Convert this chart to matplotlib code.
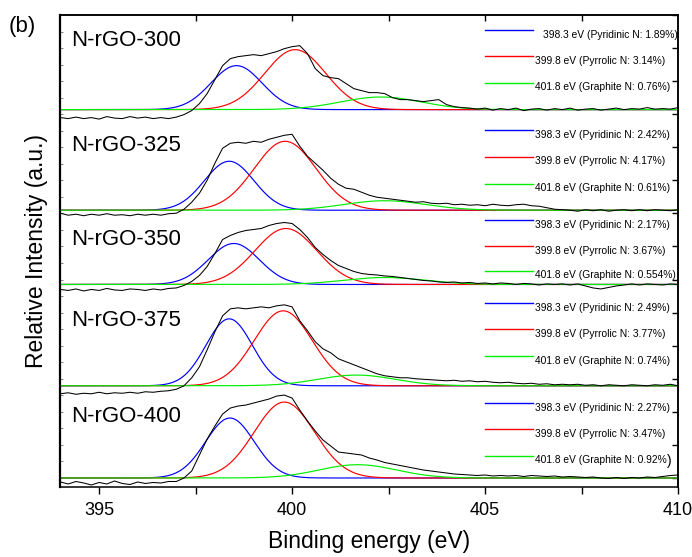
import numpy as np
import matplotlib
matplotlib.use("Agg")
import matplotlib.pyplot as plt

plt.rcParams['font.family'] = ['Liberation Sans', 'DejaVu Sans']

# ---- data -------------------------------------------------------------
samples = ["N-rGO-300", "N-rGO-325", "N-rGO-350", "N-rGO-375", "N-rGO-400"]

# measured spectra (intensity above each fitted background, a.u.), 0.2 eV steps 394 -> 410 eV
energy = np.round(np.arange(394.0, 410.0001, 0.2), 1)

spec_300 = [-8, -9, -7.5, -9, -8, -9.5, -7, -8.5, -9, -7, -8.5, -7.5, -9, -8, -9, -7.5,
            -5, -1, 6, 16, 30, 44, 51, 53, 54, 55, 54, 56, 58, 61, 63, 64, 56, 41, 34, 32,
            31, 26, 21, 19, 17, 17, 16, 12, 10, 10, 9, 8, 9, 10, 5, 3, 2, 1.5, 0.5, 1.5,
            -0.5, 1, 0, 1.5, -1, 0.5, 1, -0.5, 1, 0, 1.5, -0.5, 0.5, 1, -0.5, 0.5, 1.5, 0,
            1, 0.5, 2, 0.5, 1, 0.5, 2]
spec_325 = [-3, -5, -4, -5.5, -4, -5, -3.5, -5, -4.5, -5.5, -4, -5, -4, -5, -3.5, -3,
            1, 8, 17, 30, 47, 62, 67, 68, 67, 69, 68, 71, 73, 75, 76, 64, 54, 47, 40, 32,
            26, 22, 21, 18, 15, 13, 12, 11, 10, 9, 8, 8.5, 7, 6.5, 7, 5.5, 6, 5, 5.5, 4.5,
            6, 5, 4.5, 5.5, 6, 4.5, 4, 2.5, 1, 0.5, 0, -1, 0.5, -0.5, 0.5, -1, 0, 0.5,
            -0.5, 0.5, -0.5, 0.5, 0, -0.5, 0.5]
spec_350 = [-5, -6, -4.5, -6.5, -5, -6, -4, -5.5, -6, -4.5, -5, -6, -4.5, -5.5, -4, -3.5,
            -1, 3, 9, 18, 31, 45, 49, 52, 54, 55, 56, 59, 61, 62, 61, 55, 47, 37, 30, 24,
            19, 16, 13, 11, 10, 9.5, 8.5, 8, 7, 6, 5, 4, 3.5, 2.5, 2, 2.5, 1.5, 2, 1, 1.5,
            0.5, 1.5, 1, 0, 1, 0.5, -0.5, 0.5, 0, 0.5, -0.5, 0.5, -1.5, -3.5, -4.5, -3,
            -1.5, -0.5, 0.5, -0.5, 0.5, 0, -0.5, 0.5, 0]
spec_375 = [-8, -7, -8.5, -7.5, -8, -6.5, -8, -7, -7.5, -6.5, -7.5, -6, -6.5, -5.5, -5, -3.5,
            0, 8, 19, 36, 54, 70, 77, 78, 77, 78, 79, 78, 80, 81, 79, 65, 55, 44, 37, 33,
            27, 24, 21, 18, 15, 12, 10, 9, 8, 8, 7, 6.5, 6, 5.5, 5, 5.5, 4.5, 5, 4, 4.5,
            3.5, 3, 3.5, 2.5, 2, 2.5, 1.5, 2, 1, 1.5, 1, 1.5, 0.5, 1, 0, 1, 0.5, 0, 1, 0.5,
            0, 1, 0.5, 1.5, 0]
spec_400 = [-4, -6, -3.5, -5, -7, -4.5, -6, -3, -5.5, -6.5, -4, -5.5, -4.5, -5, -3.5, -3.5,
            0, 7, 23, 39, 52, 64, 70, 72, 73, 75, 77, 79, 82, 83, 80, 68, 57, 47, 38, 32,
            26, 25, 24, 23, 20, 18, 15.5, 14, 12.5, 11, 9.5, 8, 7, 6, 5, 4, 3.5, 3, 2.5, 3,
            2, 2.5, 2, 2.5, 1.5, 2.5, 2, 1.5, 2, 1, 1.5, 1, 0.5, 1, 0, -0.5, 0.5, -0.5, 0.5,
            0, 1, 0.5, 1.5, 2.5, 3]
spectra = [spec_300, spec_325, spec_350, spec_375, spec_400]

# vertical stacking offsets of each spectrum (a.u.)
offsets = [377.7, 277.0, 202.7, 101.3, 9.0]

# Gaussian fit components: centre (eV), height (a.u.), sigma (eV)
pyridinic_fit = [(398.56, 44, 0.66), (398.37, 49, 0.64), (398.49, 41, 0.66),
                 (398.37, 67, 0.60), (398.39, 60, 0.63)]
pyrrolic_fit = [(400.08, 60, 0.79), (399.82, 69, 0.80), (399.84, 56, 0.80),
                (399.77, 75, 0.75), (399.80, 76, 0.78)]
graphite_fit = [(402.30, 12.6, 1.05), (402.40, 9.5, 1.05), (402.40, 7.0, 1.05),
                (401.67, 10.7, 1.00), (401.70, 13.3, 1.00)]

pyridinic_pct = ["1.89", "2.42", "2.17", "2.49", "2.27"]
pyrrolic_pct = ["3.14", "4.17", "3.67", "3.77", "3.47"]
graphite_pct = ["0.76", "0.61", "0.554", "0.74", "0.92"]

x_ticks = [395, 400, 405, 410]

# ---- figure -----------------------------------------------------------
fig = plt.figure(figsize=(6.92, 5.57), dpi=100)
ax = fig.add_axes([0.0874, 0.1257, 0.8925, 0.8474])
ax.set_xlim(394, 410)
ax.set_ylim(0, 472)

blue, red, green = "#0000ff", "#ff0000", "#00ee00"
x_fit = np.linspace(394, 410, 1601)


def gauss(x, c, h, s):
    return h * np.exp(-(x - c) ** 2 / (2 * s ** 2))


# legend rows: y of the swatch line relative to the panel offset
legend_rows = [(79.3, 53.3, 27.0), (80.0, 53.3, 26.7), (64.3, 38.3, 13.6),
               (82.4, 56.4, 29.7), (74.7, 48.7, 22.3)]
label_y = [447, 342, 248, 166.5, 71]

for i, name in enumerate(samples):
    off = offsets[i]
    for fit, col in ((pyridinic_fit, blue), (pyrrolic_fit, red), (graphite_fit, green)):
        c, h, s = fit[i]
        ax.plot(x_fit, off + gauss(x_fit, c, h, s), color=col, lw=0.85, zorder=2)
    ax.plot(energy, off + np.asarray(spectra[i]), color="black", lw=0.75, zorder=3)

    ax.text(394.28, label_y[i], name, fontsize=16, va="center", ha="left")

    texts = [f"398.3 eV (Pyridinic N: {pyridinic_pct[i]}%)",
             f"399.8 eV (Pyrrolic N: {pyrrolic_pct[i]}%)",
             f"401.8 eV (Graphite N: {graphite_pct[i]}%)"]
    for j, (txt, col) in enumerate(zip(texts, (blue, red, green))):
        yl = off + legend_rows[i][j]
        ax.plot([405.0, 406.25], [yl, yl], color=col, lw=1.0, zorder=2)
        tx = 406.5 if (i == 0 and j == 0) else 406.3
        if i == 4 and j == 2:
            t = ax.text(tx, yl - 4.5, txt[:-1], fontsize=7.4, va="center", ha="left")
            ax.annotate(")", xy=(1.0, 0.45), xycoords=t, fontsize=10,
                        va="center", ha="left")
        else:
            ax.text(tx, yl - 4.5, txt, fontsize=7.4, va="center", ha="left")

# axes styling
for side in ("top", "right", "bottom"):
    ax.spines[side].set_linewidth(1.1)
ax.spines["left"].set_linewidth(1.6)

ax.set_xticks(x_ticks)
ax.set_xticks([397.5, 402.5, 407.5], minor=True)
ax.tick_params(axis="x", which="both", direction="out", length=5, width=1.0,
               labelsize=13, pad=6)

ax.set_yticks(np.arange(9, 473, 16.55))
ax.tick_params(axis="y", which="major", direction="in", length=2, width=0.5,
               color="#555555", labelleft=False)

top = ax.secondary_xaxis("top")
top.set_xticks([397.5, 400, 402.5, 405, 407.5])
top.tick_params(direction="in", length=4, width=1.0, labeltop=False)
top.spines["top"].set_linewidth(1.1)

right = ax.secondary_yaxis("right")
right.set_yticks(np.arange(9, 473, 33.1))
right.tick_params(direction="in", length=4, width=1.0, labelright=False)
right.spines["right"].set_linewidth(1.1)

ax.set_xlabel("Binding energy (eV)", fontsize=16.5, labelpad=8)
ax.set_ylabel("Relative Intensity (a.u.)", fontsize=16.5, labelpad=9)

fig.text(0.012, 0.953, "(b)", fontsize=16, va="center", ha="left")

fig.savefig("out.png", dpi=100)
